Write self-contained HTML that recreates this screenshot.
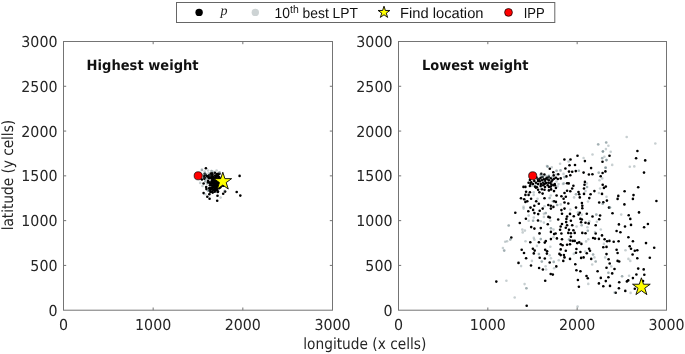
<!DOCTYPE html>
<html lang="en"><head><meta charset="utf-8"><title>LPT scatter</title>
<style>html,body{margin:0;padding:0;background:#fff}body{width:685px;height:354px;overflow:hidden}svg{display:block}</style>
</head><body>
<svg width="685" height="354" viewBox="0 0 685 354">
<style>
text{font-family:"DejaVu Sans","Liberation Sans",sans-serif;fill:#262626;text-rendering:geometricPrecision}
.tk{font-size:15px}
.lb{font-family:"DejaVu Sans Condensed","DejaVu Sans",sans-serif;font-stretch:condensed;font-size:15.4px}
.ti{font-size:14px;font-weight:bold;fill:#111}
.lg{font-family:"Liberation Sans","DejaVu Sans",sans-serif;font-size:14.6px;fill:#111}
</style>
<rect width="685" height="354" fill="#fff"/>
<rect x="63.5" y="41.5" width="269.0" height="268.7" fill="#fff" stroke="#747474" stroke-width="1"/><path d="M63.5 265.42h2.7M332.5 265.42h-2.7" stroke="#747474" stroke-width="1" fill="none"/><path d="M63.5 220.63h2.7M332.5 220.63h-2.7" stroke="#747474" stroke-width="1" fill="none"/><path d="M63.5 175.85h2.7M332.5 175.85h-2.7" stroke="#747474" stroke-width="1" fill="none"/><path d="M63.5 131.07h2.7M332.5 131.07h-2.7" stroke="#747474" stroke-width="1" fill="none"/><path d="M63.5 86.28h2.7M332.5 86.28h-2.7" stroke="#747474" stroke-width="1" fill="none"/><path d="M153.17 310.2v-2.7M153.17 41.5v2.7" stroke="#747474" stroke-width="1" fill="none"/><path d="M242.83 310.2v-2.7M242.83 41.5v2.7" stroke="#747474" stroke-width="1" fill="none"/><text class="tk" x="57.5" y="315.80" text-anchor="end" textLength="9.05" lengthAdjust="spacingAndGlyphs">0</text><text class="tk" x="57.5" y="271.02" text-anchor="end" textLength="27.15" lengthAdjust="spacingAndGlyphs">500</text><text class="tk" x="57.5" y="226.23" text-anchor="end" textLength="36.20" lengthAdjust="spacingAndGlyphs">1000</text><text class="tk" x="57.5" y="181.45" text-anchor="end" textLength="36.20" lengthAdjust="spacingAndGlyphs">1500</text><text class="tk" x="57.5" y="136.67" text-anchor="end" textLength="36.20" lengthAdjust="spacingAndGlyphs">2000</text><text class="tk" x="57.5" y="91.88" text-anchor="end" textLength="36.20" lengthAdjust="spacingAndGlyphs">2500</text><text class="tk" x="57.5" y="47.10" text-anchor="end" textLength="36.20" lengthAdjust="spacingAndGlyphs">3000</text><text class="tk" x="63.50" y="330.4" text-anchor="middle" textLength="9.05" lengthAdjust="spacingAndGlyphs">0</text><text class="tk" x="153.17" y="330.4" text-anchor="middle" textLength="36.20" lengthAdjust="spacingAndGlyphs">1000</text><text class="tk" x="242.83" y="330.4" text-anchor="middle" textLength="36.20" lengthAdjust="spacingAndGlyphs">2000</text><text class="tk" x="332.50" y="330.4" text-anchor="middle" textLength="36.20" lengthAdjust="spacingAndGlyphs">3000</text>
<rect x="398.5" y="41.5" width="268.0" height="268.7" fill="#fff" stroke="#747474" stroke-width="1"/><path d="M398.5 265.42h2.7M666.5 265.42h-2.7" stroke="#747474" stroke-width="1" fill="none"/><path d="M398.5 220.63h2.7M666.5 220.63h-2.7" stroke="#747474" stroke-width="1" fill="none"/><path d="M398.5 175.85h2.7M666.5 175.85h-2.7" stroke="#747474" stroke-width="1" fill="none"/><path d="M398.5 131.07h2.7M666.5 131.07h-2.7" stroke="#747474" stroke-width="1" fill="none"/><path d="M398.5 86.28h2.7M666.5 86.28h-2.7" stroke="#747474" stroke-width="1" fill="none"/><path d="M487.83 310.2v-2.7M487.83 41.5v2.7" stroke="#747474" stroke-width="1" fill="none"/><path d="M577.17 310.2v-2.7M577.17 41.5v2.7" stroke="#747474" stroke-width="1" fill="none"/><text class="tk" x="392.5" y="315.80" text-anchor="end" textLength="9.05" lengthAdjust="spacingAndGlyphs">0</text><text class="tk" x="392.5" y="271.02" text-anchor="end" textLength="27.15" lengthAdjust="spacingAndGlyphs">500</text><text class="tk" x="392.5" y="226.23" text-anchor="end" textLength="36.20" lengthAdjust="spacingAndGlyphs">1000</text><text class="tk" x="392.5" y="181.45" text-anchor="end" textLength="36.20" lengthAdjust="spacingAndGlyphs">1500</text><text class="tk" x="392.5" y="136.67" text-anchor="end" textLength="36.20" lengthAdjust="spacingAndGlyphs">2000</text><text class="tk" x="392.5" y="91.88" text-anchor="end" textLength="36.20" lengthAdjust="spacingAndGlyphs">2500</text><text class="tk" x="392.5" y="47.10" text-anchor="end" textLength="36.20" lengthAdjust="spacingAndGlyphs">3000</text><text class="tk" x="398.50" y="330.4" text-anchor="middle" textLength="9.05" lengthAdjust="spacingAndGlyphs">0</text><text class="tk" x="487.83" y="330.4" text-anchor="middle" textLength="36.20" lengthAdjust="spacingAndGlyphs">1000</text><text class="tk" x="577.17" y="330.4" text-anchor="middle" textLength="36.20" lengthAdjust="spacingAndGlyphs">2000</text><text class="tk" x="666.50" y="330.4" text-anchor="middle" textLength="36.20" lengthAdjust="spacingAndGlyphs">3000</text>
<g fill="#000"><circle cx="205.9" cy="168.2" r="1.3"/><circle cx="239.6" cy="175.9" r="1.3"/><circle cx="236.7" cy="192" r="1.3"/><circle cx="240.3" cy="195.6" r="1.3"/><circle cx="203.6" cy="193.1" r="1.3"/><circle cx="207.3" cy="196.8" r="1.3"/><circle cx="209.6" cy="198.7" r="1.3"/><circle cx="217.2" cy="200.8" r="1.3"/><circle cx="217.5" cy="195.7" r="1.3"/><circle cx="209.3" cy="194.2" r="1.3"/><circle cx="223.2" cy="193.7" r="1.3"/><circle cx="225.1" cy="191.6" r="1.3"/><circle cx="203.6" cy="183.5" r="1.3"/><circle cx="206.2" cy="187.1" r="1.3"/><circle cx="206.4" cy="189.1" r="1.3"/><circle cx="210.4" cy="190.5" r="1.3"/><circle cx="201.9" cy="179.5" r="1.3"/><circle cx="204.2" cy="176.1" r="1.3"/><circle cx="207.6" cy="176.7" r="1.3"/><circle cx="212.1" cy="173.3" r="1.3"/><circle cx="214.9" cy="172.7" r="1.3"/><circle cx="218.3" cy="173.9" r="1.3"/><circle cx="214.1" cy="186.6" r="1.3"/><circle cx="214.2" cy="182.4" r="1.3"/><circle cx="211.7" cy="182.9" r="1.3"/><circle cx="218.9" cy="186.1" r="1.3"/><circle cx="218.6" cy="185.2" r="1.3"/><circle cx="216.4" cy="184.9" r="1.3"/><circle cx="209.2" cy="188.3" r="1.3"/><circle cx="216.8" cy="186.5" r="1.3"/><circle cx="209.1" cy="175.3" r="1.3"/><circle cx="211.9" cy="181.7" r="1.3"/><circle cx="216.1" cy="183.8" r="1.3"/><circle cx="216.8" cy="180.8" r="1.3"/><circle cx="216.1" cy="186.0" r="1.3"/><circle cx="212.7" cy="192.6" r="1.3"/><circle cx="216.9" cy="190.0" r="1.3"/><circle cx="212.8" cy="180.3" r="1.3"/><circle cx="213.8" cy="183.5" r="1.3"/><circle cx="217.2" cy="185.2" r="1.3"/><circle cx="213.4" cy="179.2" r="1.3"/><circle cx="213.2" cy="190.1" r="1.3"/><circle cx="212.2" cy="185.2" r="1.3"/><circle cx="216.5" cy="176.6" r="1.3"/><circle cx="215.2" cy="190.5" r="1.3"/><circle cx="207.9" cy="182.4" r="1.3"/><circle cx="214.6" cy="179.9" r="1.3"/><circle cx="216.7" cy="183.7" r="1.3"/><circle cx="209.9" cy="188.1" r="1.3"/><circle cx="217.3" cy="188.7" r="1.3"/><circle cx="220.0" cy="185.8" r="1.3"/><circle cx="215.4" cy="177.5" r="1.3"/><circle cx="217.2" cy="180.9" r="1.3"/><circle cx="213.4" cy="177.7" r="1.3"/><circle cx="211.6" cy="181.3" r="1.3"/><circle cx="219.5" cy="173.8" r="1.3"/><circle cx="209.9" cy="185.2" r="1.3"/><circle cx="220.1" cy="186.9" r="1.3"/><circle cx="216.3" cy="180.3" r="1.3"/><circle cx="211.1" cy="188.9" r="1.3"/><circle cx="218.9" cy="184.8" r="1.3"/><circle cx="215.9" cy="186.2" r="1.3"/><circle cx="220.6" cy="187.1" r="1.3"/><circle cx="216.8" cy="186.7" r="1.3"/><circle cx="209.5" cy="190.4" r="1.3"/><circle cx="218.3" cy="186.6" r="1.3"/><circle cx="208.1" cy="180.8" r="1.3"/><circle cx="217.9" cy="174.9" r="1.3"/><circle cx="214.4" cy="189.1" r="1.3"/><circle cx="210.4" cy="192.1" r="1.3"/><circle cx="216.9" cy="183.2" r="1.3"/><circle cx="216.1" cy="187.2" r="1.3"/><circle cx="215.4" cy="189.7" r="1.3"/><circle cx="212.7" cy="181.9" r="1.3"/><circle cx="218.6" cy="184.1" r="1.3"/><circle cx="211.9" cy="188.7" r="1.3"/><circle cx="220.1" cy="181.8" r="1.3"/><circle cx="210.2" cy="183.3" r="1.3"/><circle cx="214.5" cy="182.5" r="1.3"/><circle cx="219.9" cy="178.9" r="1.3"/><circle cx="219.4" cy="177.7" r="1.3"/><circle cx="212.2" cy="187.2" r="1.3"/><circle cx="219.0" cy="188.3" r="1.3"/><circle cx="216.2" cy="184.7" r="1.3"/><circle cx="215.5" cy="186.9" r="1.3"/><circle cx="214.4" cy="185.4" r="1.3"/><circle cx="217.0" cy="184.0" r="1.3"/><circle cx="217.7" cy="186.8" r="1.3"/><circle cx="222.0" cy="185.6" r="1.3"/><circle cx="213.5" cy="182.1" r="1.3"/><circle cx="215.0" cy="188.6" r="1.3"/><circle cx="213.8" cy="185.9" r="1.3"/><circle cx="211.1" cy="185.2" r="1.3"/><circle cx="216.4" cy="185.2" r="1.3"/><circle cx="213.5" cy="187.3" r="1.3"/><circle cx="216.0" cy="181.4" r="1.3"/><circle cx="223.5" cy="185.8" r="1.3"/><circle cx="213.1" cy="183.5" r="1.3"/><circle cx="214.2" cy="183.7" r="1.3"/><circle cx="218.5" cy="178.2" r="1.3"/><circle cx="214.8" cy="188.8" r="1.3"/><circle cx="218.0" cy="191.5" r="1.3"/><circle cx="209.0" cy="182.2" r="1.3"/><circle cx="213.8" cy="187.1" r="1.3"/><circle cx="218.8" cy="176.8" r="1.3"/><circle cx="217.4" cy="176.5" r="1.3"/><circle cx="215.6" cy="190.0" r="1.3"/><circle cx="214.5" cy="185.0" r="1.3"/><circle cx="217.8" cy="184.7" r="1.3"/><circle cx="214.7" cy="191.7" r="1.3"/><circle cx="218.7" cy="182.5" r="1.3"/><circle cx="218.2" cy="182.7" r="1.3"/><circle cx="215.5" cy="187.5" r="1.3"/><circle cx="215.8" cy="187.2" r="1.3"/><circle cx="209.7" cy="176.5" r="1.3"/><circle cx="217.2" cy="179.2" r="1.3"/><circle cx="211.4" cy="176.6" r="1.3"/><circle cx="219.4" cy="187.7" r="1.3"/><circle cx="220.2" cy="179.3" r="1.3"/><circle cx="215.0" cy="178.3" r="1.3"/><circle cx="217.7" cy="191.9" r="1.3"/><circle cx="211.9" cy="191.8" r="1.3"/><circle cx="215.1" cy="175.6" r="1.3"/><circle cx="204.4" cy="178.8" r="1.3"/><circle cx="211.2" cy="174.8" r="1.3"/><circle cx="212.9" cy="176.8" r="1.3"/><circle cx="216.9" cy="174.0" r="1.3"/><circle cx="215.6" cy="179.0" r="1.3"/><circle cx="216.7" cy="175.6" r="1.3"/><circle cx="208.8" cy="178.0" r="1.3"/><circle cx="211.9" cy="176.2" r="1.3"/><circle cx="216.6" cy="175.5" r="1.3"/><circle cx="204.8" cy="177.6" r="1.3"/><circle cx="212.6" cy="174.8" r="1.3"/><circle cx="211.5" cy="177.7" r="1.3"/><circle cx="211.8" cy="178.7" r="1.3"/><circle cx="211.3" cy="178.1" r="1.3"/><circle cx="216.9" cy="179.2" r="1.3"/><circle cx="209.1" cy="177.8" r="1.3"/><circle cx="204.7" cy="173.8" r="1.3"/><circle cx="204.4" cy="178.1" r="1.3"/><circle cx="207.1" cy="176.0" r="1.3"/><circle cx="210.8" cy="175.9" r="1.3"/><circle cx="209.4" cy="176.5" r="1.3"/><circle cx="217.9" cy="176.1" r="1.3"/><circle cx="213.4" cy="178.0" r="1.3"/><circle cx="210.8" cy="173.5" r="1.3"/><circle cx="209.5" cy="178.1" r="1.3"/><circle cx="205.6" cy="174.8" r="1.3"/><circle cx="215.1" cy="177.6" r="1.3"/></g>
<g fill="#566d74" fill-opacity="0.33"><circle cx="201.9" cy="169.9" r="1.3"/><circle cx="204.7" cy="171.6" r="1.3"/><circle cx="208.1" cy="170.5" r="1.3"/><circle cx="211.5" cy="171" r="1.3"/><circle cx="216.6" cy="170.5" r="1.3"/><circle cx="208.7" cy="173.3" r="1.3"/><circle cx="205.3" cy="173.9" r="1.3"/><circle cx="203.6" cy="177.8" r="1.3"/><circle cx="200.2" cy="182.9" r="1.3"/><circle cx="205.3" cy="181.2" r="1.3"/><circle cx="220.6" cy="197.6" r="1.3"/><circle cx="205.3" cy="194.2" r="1.3"/><circle cx="208.1" cy="190.8" r="1.3"/><circle cx="224.5" cy="190.8" r="1.3"/><circle cx="203" cy="175" r="1.3"/><circle cx="206.5" cy="178.5" r="1.3"/><circle cx="210" cy="175.5" r="1.3"/><circle cx="213.5" cy="171.8" r="1.3"/><circle cx="219.5" cy="172.3" r="1.3"/><circle cx="202.5" cy="186" r="1.3"/><circle cx="207" cy="184" r="1.3"/><circle cx="201.9" cy="169.9" r="1.3"/><circle cx="211.5" cy="171" r="1.3"/><circle cx="205.3" cy="173.9" r="1.3"/><circle cx="205.3" cy="181.2" r="1.3"/><circle cx="208.1" cy="190.8" r="1.3"/><circle cx="206.5" cy="178.5" r="1.3"/><circle cx="219.5" cy="172.3" r="1.3"/></g>
<g fill="#000"><circle cx="577.5" cy="155.8" r="1.3"/><circle cx="564.4" cy="159.5" r="1.3"/><circle cx="570.5" cy="159.5" r="1.3"/><circle cx="584.9" cy="161.1" r="1.3"/><circle cx="569.5" cy="165.2" r="1.3"/><circle cx="575.0" cy="165.0" r="1.3"/><circle cx="565.4" cy="168.5" r="1.3"/><circle cx="591.1" cy="168.1" r="1.3"/><circle cx="549.8" cy="168.8" r="1.3"/><circle cx="569.0" cy="171.6" r="1.3"/><circle cx="572.2" cy="171.7" r="1.3"/><circle cx="575.8" cy="171.1" r="1.3"/><circle cx="583.6" cy="172.6" r="1.3"/><circle cx="553.3" cy="172.3" r="1.3"/><circle cx="558.2" cy="174.2" r="1.3"/><circle cx="588.9" cy="174.5" r="1.3"/><circle cx="592.4" cy="174.2" r="1.3"/><circle cx="541.3" cy="173.9" r="1.3"/><circle cx="544.4" cy="174.5" r="1.3"/><circle cx="637.4" cy="151.0" r="1.3"/><circle cx="609.5" cy="155.8" r="1.3"/><circle cx="636.1" cy="158.3" r="1.3"/><circle cx="645.2" cy="160.4" r="1.3"/><circle cx="602.5" cy="161.8" r="1.3"/><circle cx="644.0" cy="172.6" r="1.3"/><circle cx="605.4" cy="171.4" r="1.3"/><circle cx="602.6" cy="173.0" r="1.3"/><circle cx="600.7" cy="176.2" r="1.3"/><circle cx="540.7" cy="177.7" r="1.3"/><circle cx="547.0" cy="177.7" r="1.3"/><circle cx="550.8" cy="178.3" r="1.3"/><circle cx="541.9" cy="180.3" r="1.3"/><circle cx="538.1" cy="180.9" r="1.3"/><circle cx="528.6" cy="182.8" r="1.3"/><circle cx="529.9" cy="186.0" r="1.3"/><circle cx="523.5" cy="186.9" r="1.3"/><circle cx="525.4" cy="186.9" r="1.3"/><circle cx="538.1" cy="184.1" r="1.3"/><circle cx="535.0" cy="186.6" r="1.3"/><circle cx="540.7" cy="186.0" r="1.3"/><circle cx="544.5" cy="184.1" r="1.3"/><circle cx="548.3" cy="182.8" r="1.3"/><circle cx="554.7" cy="184.1" r="1.3"/><circle cx="526.1" cy="191.7" r="1.3"/><circle cx="529.9" cy="192.3" r="1.3"/><circle cx="525.4" cy="194.9" r="1.3"/><circle cx="528.6" cy="194.9" r="1.3"/><circle cx="521.0" cy="198.3" r="1.3"/><circle cx="524.2" cy="199.3" r="1.3"/><circle cx="531.1" cy="198.7" r="1.3"/><circle cx="525.4" cy="201.9" r="1.3"/><circle cx="527.3" cy="201.2" r="1.3"/><circle cx="536.2" cy="201.2" r="1.3"/><circle cx="544.5" cy="198.3" r="1.3"/><circle cx="538.8" cy="203.8" r="1.3"/><circle cx="534.3" cy="205.7" r="1.3"/><circle cx="530.5" cy="207.6" r="1.3"/><circle cx="548.3" cy="205.0" r="1.3"/><circle cx="550.8" cy="205.7" r="1.3"/><circle cx="553.4" cy="206.9" r="1.3"/><circle cx="555.9" cy="201.9" r="1.3"/><circle cx="554.0" cy="201.2" r="1.3"/><circle cx="556.6" cy="195.5" r="1.3"/><circle cx="554.0" cy="191.1" r="1.3"/><circle cx="548.9" cy="190.4" r="1.3"/><circle cx="544.5" cy="189.8" r="1.3"/><circle cx="541.9" cy="189.2" r="1.3"/><circle cx="538.1" cy="189.8" r="1.3"/><circle cx="539.4" cy="192.3" r="1.3"/><circle cx="542.6" cy="193.6" r="1.3"/><circle cx="536.9" cy="187.2" r="1.3"/><circle cx="533.0" cy="184.1" r="1.3"/><circle cx="530.5" cy="184.1" r="1.3"/><circle cx="545.1" cy="180.9" r="1.3"/><circle cx="547.7" cy="185.3" r="1.3"/><circle cx="550.8" cy="186.6" r="1.3"/><circle cx="553.4" cy="185.3" r="1.3"/><circle cx="555.9" cy="187.9" r="1.3"/><circle cx="543.2" cy="182.8" r="1.3"/><circle cx="539.4" cy="179.0" r="1.3"/><circle cx="551.5" cy="181.5" r="1.3"/><circle cx="557.8" cy="179.0" r="1.3"/><circle cx="555.9" cy="177.7" r="1.3"/><circle cx="529.9" cy="180.0" r="1.3"/><circle cx="534.3" cy="180.9" r="1.3"/><circle cx="560.7" cy="178.4" r="1.3"/><circle cx="566.4" cy="176.4" r="1.3"/><circle cx="570.3" cy="175.2" r="1.3"/><circle cx="567.1" cy="183.2" r="1.3"/><circle cx="568.7" cy="183.4" r="1.3"/><circle cx="573.4" cy="185.7" r="1.3"/><circle cx="584.9" cy="181.9" r="1.3"/><circle cx="584.5" cy="184.7" r="1.3"/><circle cx="584.0" cy="188.5" r="1.3"/><circle cx="602.7" cy="184.7" r="1.3"/><circle cx="603.9" cy="187.9" r="1.3"/><circle cx="605.8" cy="186.6" r="1.3"/><circle cx="594.4" cy="191.1" r="1.3"/><circle cx="572.2" cy="188.5" r="1.3"/><circle cx="567.1" cy="190.8" r="1.3"/><circle cx="570.3" cy="191.3" r="1.3"/><circle cx="564.5" cy="193.0" r="1.3"/><circle cx="578.5" cy="192.1" r="1.3"/><circle cx="579.2" cy="194.2" r="1.3"/><circle cx="584.0" cy="193.9" r="1.3"/><circle cx="590.6" cy="194.2" r="1.3"/><circle cx="602.0" cy="193.9" r="1.3"/><circle cx="561.4" cy="196.2" r="1.3"/><circle cx="565.8" cy="196.8" r="1.3"/><circle cx="563.6" cy="198.7" r="1.3"/><circle cx="579.8" cy="197.4" r="1.3"/><circle cx="589.3" cy="198.1" r="1.3"/><circle cx="606.9" cy="200.6" r="1.3"/><circle cx="599.2" cy="202.5" r="1.3"/><circle cx="603.3" cy="202.3" r="1.3"/><circle cx="564.5" cy="202.5" r="1.3"/><circle cx="568.3" cy="203.5" r="1.3"/><circle cx="581.9" cy="203.1" r="1.3"/><circle cx="582.3" cy="205.7" r="1.3"/><circle cx="576.0" cy="207.6" r="1.3"/><circle cx="582.3" cy="208.2" r="1.3"/><circle cx="609.0" cy="207.6" r="1.3"/><circle cx="564.5" cy="208.6" r="1.3"/><circle cx="561.4" cy="210.1" r="1.3"/><circle cx="562.0" cy="213.7" r="1.3"/><circle cx="570.0" cy="213.9" r="1.3"/><circle cx="579.8" cy="212.7" r="1.3"/><circle cx="578.5" cy="214.6" r="1.3"/><circle cx="586.8" cy="213.7" r="1.3"/><circle cx="612.5" cy="213.3" r="1.3"/><circle cx="573.8" cy="216.2" r="1.3"/><circle cx="567.1" cy="216.5" r="1.3"/><circle cx="592.5" cy="216.5" r="1.3"/><circle cx="600.1" cy="215.5" r="1.3"/><circle cx="638.2" cy="187.3" r="1.3"/><circle cx="624.6" cy="191.3" r="1.3"/><circle cx="618.3" cy="195.9" r="1.3"/><circle cx="633.5" cy="195.1" r="1.3"/><circle cx="617.6" cy="198.9" r="1.3"/><circle cx="632.9" cy="198.9" r="1.3"/><circle cx="656.4" cy="201.0" r="1.3"/><circle cx="624.4" cy="204.4" r="1.3"/><circle cx="639.0" cy="212.4" r="1.3"/><circle cx="628.7" cy="215.2" r="1.3"/><circle cx="515.3" cy="212.8" r="1.3"/><circle cx="528.3" cy="211.2" r="1.3"/><circle cx="533.1" cy="209.9" r="1.3"/><circle cx="534.4" cy="213.1" r="1.3"/><circle cx="538.2" cy="214.1" r="1.3"/><circle cx="539.7" cy="210.8" r="1.3"/><circle cx="542.7" cy="208.6" r="1.3"/><circle cx="548.4" cy="216.9" r="1.3"/><circle cx="549.9" cy="217.5" r="1.3"/><circle cx="525.9" cy="218.8" r="1.3"/><circle cx="538.0" cy="220.5" r="1.3"/><circle cx="519.8" cy="223.0" r="1.3"/><circle cx="547.8" cy="224.3" r="1.3"/><circle cx="531.2" cy="227.1" r="1.3"/><circle cx="534.4" cy="228.6" r="1.3"/><circle cx="540.8" cy="228.1" r="1.3"/><circle cx="550.9" cy="231.9" r="1.3"/><circle cx="539.5" cy="233.4" r="1.3"/><circle cx="511.3" cy="237.5" r="1.3"/><circle cx="550.9" cy="239.1" r="1.3"/><circle cx="545.8" cy="241.0" r="1.3"/><circle cx="530.3" cy="242.3" r="1.3"/><circle cx="538.9" cy="242.3" r="1.3"/><circle cx="544.8" cy="242.6" r="1.3"/><circle cx="532.9" cy="248.7" r="1.3"/><circle cx="521.7" cy="249.7" r="1.3"/><circle cx="545.2" cy="249.7" r="1.3"/><circle cx="534.7" cy="250.6" r="1.3"/><circle cx="547.1" cy="251.2" r="1.3"/><circle cx="554.1" cy="234.1" r="1.3"/><circle cx="550.9" cy="208.6" r="1.3"/><circle cx="558.2" cy="219.5" r="1.3"/><circle cx="566.4" cy="218.9" r="1.3"/><circle cx="566.2" cy="222.1" r="1.3"/><circle cx="570.9" cy="220.8" r="1.3"/><circle cx="580.4" cy="218.9" r="1.3"/><circle cx="581.9" cy="219.5" r="1.3"/><circle cx="581.1" cy="222.3" r="1.3"/><circle cx="585.5" cy="222.7" r="1.3"/><circle cx="588.7" cy="223.4" r="1.3"/><circle cx="599.2" cy="219.3" r="1.3"/><circle cx="595.7" cy="225.3" r="1.3"/><circle cx="562.0" cy="224.0" r="1.3"/><circle cx="560.7" cy="226.5" r="1.3"/><circle cx="567.1" cy="225.3" r="1.3"/><circle cx="572.2" cy="225.3" r="1.3"/><circle cx="565.8" cy="227.8" r="1.3"/><circle cx="560.1" cy="229.7" r="1.3"/><circle cx="569.0" cy="229.7" r="1.3"/><circle cx="573.4" cy="230.3" r="1.3"/><circle cx="568.3" cy="232.9" r="1.3"/><circle cx="570.9" cy="233.3" r="1.3"/><circle cx="574.7" cy="232.9" r="1.3"/><circle cx="561.4" cy="233.5" r="1.3"/><circle cx="582.3" cy="232.9" r="1.3"/><circle cx="585.5" cy="233.3" r="1.3"/><circle cx="595.7" cy="233.5" r="1.3"/><circle cx="602.0" cy="235.4" r="1.3"/><circle cx="570.9" cy="236.7" r="1.3"/><circle cx="556.9" cy="238.4" r="1.3"/><circle cx="562.0" cy="239.2" r="1.3"/><circle cx="570.3" cy="240.5" r="1.3"/><circle cx="572.8" cy="240.9" r="1.3"/><circle cx="574.7" cy="240.9" r="1.3"/><circle cx="577.2" cy="243.1" r="1.3"/><circle cx="579.2" cy="242.4" r="1.3"/><circle cx="581.4" cy="243.9" r="1.3"/><circle cx="593.1" cy="238.0" r="1.3"/><circle cx="595.0" cy="238.6" r="1.3"/><circle cx="598.9" cy="238.9" r="1.3"/><circle cx="604.6" cy="239.2" r="1.3"/><circle cx="607.1" cy="241.2" r="1.3"/><circle cx="609.4" cy="240.9" r="1.3"/><circle cx="613.7" cy="241.8" r="1.3"/><circle cx="560.7" cy="244.3" r="1.3"/><circle cx="562.6" cy="245.2" r="1.3"/><circle cx="567.1" cy="244.7" r="1.3"/><circle cx="570.0" cy="244.3" r="1.3"/><circle cx="603.3" cy="247.3" r="1.3"/><circle cx="606.5" cy="246.9" r="1.3"/><circle cx="560.7" cy="249.4" r="1.3"/><circle cx="565.8" cy="250.7" r="1.3"/><circle cx="576.4" cy="249.0" r="1.3"/><circle cx="589.1" cy="248.8" r="1.3"/><circle cx="590.0" cy="250.7" r="1.3"/><circle cx="580.4" cy="252.0" r="1.3"/><circle cx="586.8" cy="253.2" r="1.3"/><circle cx="576.0" cy="252.8" r="1.3"/><circle cx="559.4" cy="253.9" r="1.3"/><circle cx="560.7" cy="255.1" r="1.3"/><circle cx="563.9" cy="255.1" r="1.3"/><circle cx="606.5" cy="254.1" r="1.3"/><circle cx="564.5" cy="257.4" r="1.3"/><circle cx="570.0" cy="258.9" r="1.3"/><circle cx="581.1" cy="257.9" r="1.3"/><circle cx="583.6" cy="257.4" r="1.3"/><circle cx="591.2" cy="258.9" r="1.3"/><circle cx="608.6" cy="259.2" r="1.3"/><circle cx="563.3" cy="260.9" r="1.3"/><circle cx="555.6" cy="233.5" r="1.3"/><circle cx="630.3" cy="218.9" r="1.3"/><circle cx="618.9" cy="224.4" r="1.3"/><circle cx="631.0" cy="224.9" r="1.3"/><circle cx="625.0" cy="226.5" r="1.3"/><circle cx="647.9" cy="224.0" r="1.3"/><circle cx="644.1" cy="227.2" r="1.3"/><circle cx="616.6" cy="231.0" r="1.3"/><circle cx="620.4" cy="232.3" r="1.3"/><circle cx="628.4" cy="237.3" r="1.3"/><circle cx="618.6" cy="241.2" r="1.3"/><circle cx="632.9" cy="241.2" r="1.3"/><circle cx="646.0" cy="243.1" r="1.3"/><circle cx="629.7" cy="246.2" r="1.3"/><circle cx="654.2" cy="247.8" r="1.3"/><circle cx="631.0" cy="248.8" r="1.3"/><circle cx="616.6" cy="249.8" r="1.3"/><circle cx="634.8" cy="250.7" r="1.3"/><circle cx="637.3" cy="250.3" r="1.3"/><circle cx="617.6" cy="253.0" r="1.3"/><circle cx="632.6" cy="254.5" r="1.3"/><circle cx="637.3" cy="258.3" r="1.3"/><circle cx="649.8" cy="257.7" r="1.3"/><circle cx="617.6" cy="260.9" r="1.3"/><circle cx="619.2" cy="261.5" r="1.3"/><circle cx="524.0" cy="253.0" r="1.3"/><circle cx="533.8" cy="253.4" r="1.3"/><circle cx="546.9" cy="253.6" r="1.3"/><circle cx="526.1" cy="258.3" r="1.3"/><circle cx="539.7" cy="257.8" r="1.3"/><circle cx="544.8" cy="258.5" r="1.3"/><circle cx="518.5" cy="262.9" r="1.3"/><circle cx="549.7" cy="262.5" r="1.3"/><circle cx="531.0" cy="265.5" r="1.3"/><circle cx="539.1" cy="268.0" r="1.3"/><circle cx="542.9" cy="269.5" r="1.3"/><circle cx="550.7" cy="274.0" r="1.3"/><circle cx="552.8" cy="274.6" r="1.3"/><circle cx="545.2" cy="280.7" r="1.3"/><circle cx="496.3" cy="281.6" r="1.3"/><circle cx="556.3" cy="266.4" r="1.3"/><circle cx="575.3" cy="264.3" r="1.3"/><circle cx="576.4" cy="270.3" r="1.3"/><circle cx="580.4" cy="271.3" r="1.3"/><circle cx="586.5" cy="276.0" r="1.3"/><circle cx="587.8" cy="278.3" r="1.3"/><circle cx="577.9" cy="280.0" r="1.3"/><circle cx="578.9" cy="286.8" r="1.3"/><circle cx="597.6" cy="271.2" r="1.3"/><circle cx="600.8" cy="277.9" r="1.3"/><circle cx="598.9" cy="283.4" r="1.3"/><circle cx="603.3" cy="286.2" r="1.3"/><circle cx="605.8" cy="281.1" r="1.3"/><circle cx="608.4" cy="277.3" r="1.3"/><circle cx="610.0" cy="285.9" r="1.3"/><circle cx="612.2" cy="273.4" r="1.3"/><circle cx="606.5" cy="267.7" r="1.3"/><circle cx="609.7" cy="263.5" r="1.3"/><circle cx="614.5" cy="269.0" r="1.3"/><circle cx="638.2" cy="268.6" r="1.3"/><circle cx="643.7" cy="269.4" r="1.3"/><circle cx="636.4" cy="274.5" r="1.3"/><circle cx="644.3" cy="274.7" r="1.3"/><circle cx="632.9" cy="278.1" r="1.3"/><circle cx="628.2" cy="280.4" r="1.3"/><circle cx="626.9" cy="281.4" r="1.3"/><circle cx="619.2" cy="282.3" r="1.3"/><circle cx="643.0" cy="281.1" r="1.3"/><circle cx="618.9" cy="288.3" r="1.3"/><circle cx="625.3" cy="290.9" r="1.3"/><circle cx="615.7" cy="292.8" r="1.3"/><circle cx="634.8" cy="288.7" r="1.3"/><circle cx="526.7" cy="305.8" r="1.3"/><circle cx="553.7" cy="175.4" r="1.3"/><circle cx="554.1" cy="178.8" r="1.3"/><circle cx="547.7" cy="179.3" r="1.3"/><circle cx="539.7" cy="181.3" r="1.3"/><circle cx="531.2" cy="182.2" r="1.3"/><circle cx="540.9" cy="183.9" r="1.3"/><circle cx="543.1" cy="185.2" r="1.3"/><circle cx="546" cy="183.1" r="1.3"/><circle cx="550.3" cy="183.1" r="1.3"/><circle cx="554.9" cy="185.2" r="1.3"/><circle cx="549" cy="186.9" r="1.3"/><circle cx="535.9" cy="187.6" r="1.3"/><circle cx="551.1" cy="189.4" r="1.3"/><circle cx="536.5" cy="177.5" r="1.3"/><circle cx="538" cy="179.2" r="1.3"/><circle cx="542.5" cy="177" r="1.3"/><circle cx="545.8" cy="178.8" r="1.3"/><circle cx="549" cy="180.2" r="1.3"/><circle cx="552.5" cy="180" r="1.3"/><circle cx="536" cy="182.8" r="1.3"/><circle cx="545" cy="187" r="1.3"/><circle cx="551.5" cy="184.6" r="1.3"/><circle cx="548.8" cy="176.8" r="1.3"/><circle cx="543.8" cy="179.2" r="1.3"/></g>
<g fill="#566d74" fill-opacity="0.33"><circle cx="598.1" cy="144.2" r="1.3"/><circle cx="592.5" cy="154.5" r="1.3"/><circle cx="583.6" cy="158.0" r="1.3"/><circle cx="568.6" cy="161.5" r="1.3"/><circle cx="560.1" cy="163.7" r="1.3"/><circle cx="547.6" cy="166.6" r="1.3"/><circle cx="551.7" cy="167.2" r="1.3"/><circle cx="560.6" cy="170.4" r="1.3"/><circle cx="556.5" cy="170.7" r="1.3"/><circle cx="578.8" cy="170.7" r="1.3"/><circle cx="598.7" cy="172.6" r="1.3"/><circle cx="563.5" cy="173.9" r="1.3"/><circle cx="626.7" cy="137.0" r="1.3"/><circle cx="606.2" cy="142.5" r="1.3"/><circle cx="655.3" cy="143.5" r="1.3"/><circle cx="608.4" cy="145.8" r="1.3"/><circle cx="605.9" cy="149.1" r="1.3"/><circle cx="602.9" cy="151.6" r="1.3"/><circle cx="610.7" cy="151.7" r="1.3"/><circle cx="604.4" cy="156.7" r="1.3"/><circle cx="602.2" cy="158.2" r="1.3"/><circle cx="606.6" cy="160.1" r="1.3"/><circle cx="612.2" cy="164.9" r="1.3"/><circle cx="629.8" cy="166.7" r="1.3"/><circle cx="634.3" cy="166.4" r="1.3"/><circle cx="605.6" cy="167.7" r="1.3"/><circle cx="602.2" cy="178.4" r="1.3"/><circle cx="540.7" cy="174.5" r="1.3"/><circle cx="543.2" cy="176.4" r="1.3"/><circle cx="548.9" cy="175.8" r="1.3"/><circle cx="533.7" cy="192.3" r="1.3"/><circle cx="533.7" cy="194.9" r="1.3"/><circle cx="550.8" cy="195.5" r="1.3"/><circle cx="549.6" cy="198.0" r="1.3"/><circle cx="552.8" cy="201.2" r="1.3"/><circle cx="523.5" cy="206.9" r="1.3"/><circle cx="544.5" cy="206.3" r="1.3"/><circle cx="557.2" cy="205.0" r="1.3"/><circle cx="537.5" cy="198.7" r="1.3"/><circle cx="558.5" cy="184.1" r="1.3"/><circle cx="531.8" cy="186.0" r="1.3"/><circle cx="564.5" cy="177.1" r="1.3"/><circle cx="563.9" cy="183.4" r="1.3"/><circle cx="599.5" cy="180.3" r="1.3"/><circle cx="586.8" cy="183.4" r="1.3"/><circle cx="587.0" cy="187.0" r="1.3"/><circle cx="600.1" cy="188.5" r="1.3"/><circle cx="585.5" cy="191.1" r="1.3"/><circle cx="598.9" cy="193.0" r="1.3"/><circle cx="576.0" cy="194.2" r="1.3"/><circle cx="574.1" cy="197.4" r="1.3"/><circle cx="606.5" cy="196.8" r="1.3"/><circle cx="588.0" cy="201.5" r="1.3"/><circle cx="602.7" cy="203.8" r="1.3"/><circle cx="570.3" cy="209.5" r="1.3"/><circle cx="577.9" cy="212.4" r="1.3"/><circle cx="581.7" cy="214.6" r="1.3"/><circle cx="596.3" cy="214.6" r="1.3"/><circle cx="560.7" cy="204.4" r="1.3"/><circle cx="556.3" cy="174.5" r="1.3"/><circle cx="621.2" cy="214.6" r="1.3"/><circle cx="610.0" cy="207.6" r="1.3"/><circle cx="523.6" cy="208.6" r="1.3"/><circle cx="528.7" cy="215.6" r="1.3"/><circle cx="543.9" cy="213.7" r="1.3"/><circle cx="545.8" cy="213.1" r="1.3"/><circle cx="543.9" cy="216.9" r="1.3"/><circle cx="533.8" cy="217.5" r="1.3"/><circle cx="528.7" cy="220.7" r="1.3"/><circle cx="533.1" cy="220.7" r="1.3"/><circle cx="540.8" cy="221.3" r="1.3"/><circle cx="543.9" cy="222.6" r="1.3"/><circle cx="550.3" cy="220.7" r="1.3"/><circle cx="508.7" cy="225.5" r="1.3"/><circle cx="522.3" cy="229.6" r="1.3"/><circle cx="524.9" cy="230.6" r="1.3"/><circle cx="522.7" cy="232.4" r="1.3"/><circle cx="550.9" cy="228.3" r="1.3"/><circle cx="553.5" cy="229.6" r="1.3"/><circle cx="533.8" cy="237.9" r="1.3"/><circle cx="534.4" cy="239.8" r="1.3"/><circle cx="540.8" cy="239.1" r="1.3"/><circle cx="525.5" cy="241.3" r="1.3"/><circle cx="505.2" cy="241.7" r="1.3"/><circle cx="507.1" cy="241.3" r="1.3"/><circle cx="510.3" cy="239.5" r="1.3"/><circle cx="536.9" cy="245.9" r="1.3"/><circle cx="550.3" cy="246.8" r="1.3"/><circle cx="502.9" cy="248.0" r="1.3"/><circle cx="504.2" cy="250.6" r="1.3"/><circle cx="553.5" cy="237.2" r="1.3"/><circle cx="589.3" cy="221.4" r="1.3"/><circle cx="596.9" cy="221.8" r="1.3"/><circle cx="581.7" cy="225.3" r="1.3"/><circle cx="576.6" cy="226.5" r="1.3"/><circle cx="587.4" cy="227.2" r="1.3"/><circle cx="600.8" cy="229.5" r="1.3"/><circle cx="587.8" cy="230.7" r="1.3"/><circle cx="595.0" cy="232.0" r="1.3"/><circle cx="588.3" cy="239.2" r="1.3"/><circle cx="586.1" cy="241.4" r="1.3"/><circle cx="569.0" cy="239.6" r="1.3"/><circle cx="603.9" cy="243.9" r="1.3"/><circle cx="573.8" cy="253.9" r="1.3"/><circle cx="585.3" cy="251.6" r="1.3"/><circle cx="593.1" cy="254.5" r="1.3"/><circle cx="594.4" cy="257.4" r="1.3"/><circle cx="605.2" cy="257.4" r="1.3"/><circle cx="558.8" cy="260.2" r="1.3"/><circle cx="595.7" cy="261.5" r="1.3"/><circle cx="625.5" cy="250.3" r="1.3"/><circle cx="628.4" cy="258.9" r="1.3"/><circle cx="630.3" cy="260.9" r="1.3"/><circle cx="538.9" cy="254.0" r="1.3"/><circle cx="549.7" cy="255.3" r="1.3"/><circle cx="550.9" cy="258.3" r="1.3"/><circle cx="531.9" cy="260.9" r="1.3"/><circle cx="541.8" cy="261.6" r="1.3"/><circle cx="521.1" cy="266.1" r="1.3"/><circle cx="545.6" cy="266.3" r="1.3"/><circle cx="546.1" cy="269.5" r="1.3"/><circle cx="553.7" cy="261.9" r="1.3"/><circle cx="554.1" cy="268.3" r="1.3"/><circle cx="506.4" cy="280.7" r="1.3"/><circle cx="524.6" cy="284.1" r="1.3"/><circle cx="526.4" cy="288.3" r="1.3"/><circle cx="514.7" cy="297.5" r="1.3"/><circle cx="592.2" cy="264.5" r="1.3"/><circle cx="611.3" cy="266.4" r="1.3"/><circle cx="608.4" cy="272.8" r="1.3"/><circle cx="588.3" cy="283.9" r="1.3"/><circle cx="614.5" cy="292.5" r="1.3"/><circle cx="577.6" cy="306.5" r="1.3"/><circle cx="622.1" cy="276.2" r="1.3"/><circle cx="629.1" cy="275.7" r="1.3"/><circle cx="630.6" cy="292.9" r="1.3"/><circle cx="540.5" cy="174.8" r="1.3"/><circle cx="542.5" cy="176.8" r="1.3"/><circle cx="538.5" cy="178.5" r="1.3"/><circle cx="546" cy="176" r="1.3"/><circle cx="548.5" cy="178.5" r="1.3"/><circle cx="544" cy="181.5" r="1.3"/><circle cx="552" cy="177" r="1.3"/><circle cx="556.5" cy="181.5" r="1.3"/><circle cx="536" cy="185" r="1.3"/><circle cx="541" cy="188" r="1.3"/><circle cx="560.4" cy="170.4" r="1.3"/><circle cx="556.6" cy="170.8" r="1.3"/><circle cx="563" cy="183.9" r="1.3"/><circle cx="557.5" cy="186.5" r="1.3"/><circle cx="546.9" cy="166.1" r="1.3"/><circle cx="603" cy="151.3" r="1.3"/><circle cx="598.3" cy="144.5" r="1.3"/><circle cx="602.2" cy="158.1" r="1.3"/><circle cx="606.2" cy="160.1" r="1.3"/><circle cx="605.6" cy="167.5" r="1.3"/><circle cx="598.8" cy="172.8" r="1.3"/><circle cx="547.6" cy="166.6" r="1.3"/><circle cx="578.8" cy="170.7" r="1.3"/><circle cx="606.2" cy="142.5" r="1.3"/><circle cx="602.9" cy="151.6" r="1.3"/><circle cx="606.6" cy="160.1" r="1.3"/><circle cx="605.6" cy="167.7" r="1.3"/><circle cx="548.9" cy="175.8" r="1.3"/><circle cx="549.6" cy="198.0" r="1.3"/><circle cx="557.2" cy="205.0" r="1.3"/><circle cx="564.5" cy="177.1" r="1.3"/><circle cx="587.0" cy="187.0" r="1.3"/><circle cx="576.0" cy="194.2" r="1.3"/><circle cx="602.7" cy="203.8" r="1.3"/><circle cx="596.3" cy="214.6" r="1.3"/><circle cx="610.0" cy="207.6" r="1.3"/><circle cx="545.8" cy="213.1" r="1.3"/><circle cx="533.1" cy="220.7" r="1.3"/><circle cx="508.7" cy="225.5" r="1.3"/><circle cx="550.9" cy="228.3" r="1.3"/><circle cx="540.8" cy="239.1" r="1.3"/><circle cx="510.3" cy="239.5" r="1.3"/><circle cx="504.2" cy="250.6" r="1.3"/><circle cx="581.7" cy="225.3" r="1.3"/><circle cx="587.8" cy="230.7" r="1.3"/><circle cx="569.0" cy="239.6" r="1.3"/><circle cx="593.1" cy="254.5" r="1.3"/><circle cx="595.7" cy="261.5" r="1.3"/><circle cx="538.9" cy="254.0" r="1.3"/><circle cx="541.8" cy="261.6" r="1.3"/><circle cx="553.7" cy="261.9" r="1.3"/><circle cx="526.4" cy="288.3" r="1.3"/><circle cx="608.4" cy="272.8" r="1.3"/><circle cx="622.1" cy="276.2" r="1.3"/></g>
<polygon points="222.80,172.20 224.89,178.63 231.64,178.63 226.18,182.60 228.27,189.02 222.80,185.05 217.33,189.02 219.42,182.60 213.96,178.63 220.71,178.63" fill="#ff0" stroke="#000" stroke-width="0.9" stroke-linejoin="miter"/>
<polygon points="641.40,277.80 643.49,284.23 650.24,284.23 644.78,288.20 646.87,294.62 641.40,290.65 635.93,294.62 638.02,288.20 632.56,284.23 639.31,284.23" fill="#ff0" stroke="#000" stroke-width="0.9" stroke-linejoin="miter"/>
<circle cx="198.2" cy="175.8" r="4.05" fill="#f00" stroke="#000" stroke-width="0.7"/>
<circle cx="532.7" cy="175.8" r="4.05" fill="#f00" stroke="#000" stroke-width="0.7"/>
<text class="ti" x="86.6" y="69.6" textLength="112" lengthAdjust="spacingAndGlyphs">Highest weight</text>
<text class="ti" x="422" y="69.6" textLength="106.5" lengthAdjust="spacingAndGlyphs">Lowest weight</text>
<text class="lb" x="303.3" y="349.4" textLength="123" lengthAdjust="spacingAndGlyphs">longitude (x cells)</text>
<text class="lb" transform="translate(13.2 230.3) rotate(-90)" textLength="110.4" lengthAdjust="spacingAndGlyphs">latitude (y cells)</text>
<rect x="176.5" y="2.5" width="378.3" height="20" fill="#fff" stroke="#666" stroke-width="1"/>
<circle cx="199.1" cy="12.4" r="3.7" fill="#000"/>
<text x="220.6" y="14.7" style="font-family:'Liberation Serif','DejaVu Serif',serif;font-style:italic;font-size:14px;fill:#222">p</text>
<circle cx="255.3" cy="12.4" r="3.7" fill="#cdd3d4"/>
<text class="lg" x="274.6" y="17.6" textLength="83.4" lengthAdjust="spacingAndGlyphs">10<tspan dy="-5" font-size="11">th</tspan><tspan dy="5"> best LPT</tspan></text>
<polygon points="384.00,6.20 385.39,10.48 389.90,10.48 386.25,13.13 387.64,17.42 384.00,14.77 380.36,17.42 381.75,13.13 378.10,10.48 382.61,10.48" fill="#ff0" stroke="#000" stroke-width="0.9"/>
<text class="lg" x="400.1" y="17.6" textLength="83.4" lengthAdjust="spacingAndGlyphs">Find location</text>
<circle cx="508.5" cy="12.4" r="3.9" fill="#f00" stroke="#000" stroke-width="0.7"/>
<text class="lg" x="523.7" y="17.6" textLength="21" lengthAdjust="spacingAndGlyphs">IPP</text>
</svg>
</body></html>
